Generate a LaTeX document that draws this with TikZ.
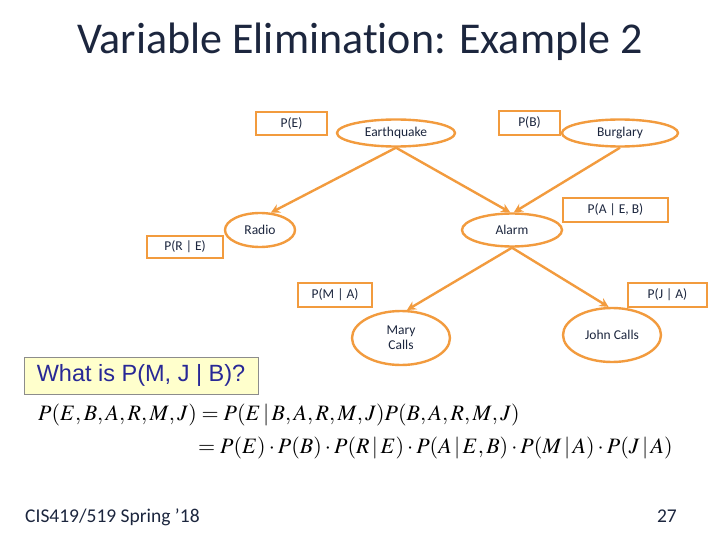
\documentclass[tikz,border=0pt]{standalone}
\usepackage{mathptmx}
\usepackage{fontspec}
\setmainfont[Ligatures=NoCommon]{Carlito}
\newfontfamily\arialf{Liberation Sans}
\usetikzlibrary{shapes.geometric,arrows.meta}
\definecolor{org}{RGB}{242,155,62}
\definecolor{navy}{RGB}{28,38,62}
\definecolor{qblue}{RGB}{40,40,150}
\definecolor{qfill}{RGB}{255,255,204}
\begin{document}
\begin{tikzpicture}[x=1pt,y=-1pt,
  var/.style={ellipse,draw=org,line width=2.4pt,fill=white,inner sep=0pt,text=navy,font=\fontsize{13.5}{14}\selectfont,align=center},
  cpt/.style={rectangle,draw=org,line width=2.4pt,fill=white,inner sep=0pt,text=navy,font=\fontsize{13.5}{14}\selectfont},
  edge/.style={draw=org,line width=2.4pt,-{Stealth[length=9pt,width=9pt]}}]
\useasboundingbox (0,0) rectangle (720,540);
\node[text=navy,font=\fontsize{44}{46}\selectfont] (title) at (360,42) {Variable Elimination: Example 2};

\node[var,minimum width=118pt,minimum height=27pt] (eq) at (396,133) {Earthquake};
\node[var,minimum width=116pt,minimum height=27pt] (bur) at (620,133) {Burglary};
\node[var,minimum width=70pt,minimum height=34pt] (rad) at (260,230) {Radio};
\node[var,minimum width=100pt,minimum height=33pt] (alm) at (512,230) {Alarm};
\node[var,minimum width=98pt,minimum height=54pt] (mary) at (401,338) {Mary\\[1pt]Calls};
\node[var,minimum width=98pt,minimum height=54pt] (john) at (612,335) {John Calls};

\node[cpt,minimum width=71pt,minimum height=23pt] (pe) at (291.5,123.5) {P(E)};
\node[cpt,minimum width=61pt,minimum height=24pt] (pb) at (529.5,123) {P(B)};
\node[cpt,minimum width=76pt,minimum height=22pt] (pre) at (185,247) {P(R | E)};
\node[cpt,minimum width=105pt,minimum height=24pt] (pa) at (615.5,210) {P(A | E, B)};
\node[cpt,minimum width=74pt,minimum height=24pt] (pm) at (335,295) {P(M | A)};
\node[cpt,minimum width=79pt,minimum height=24pt] (pj) at (667.5,295) {P(J | A)};

\draw[edge] (eq.south) -- (rad.58);
\draw[edge] (eq.south) -- (alm.96);
\draw[edge] (bur.south) -- (alm.84);
\draw[edge] (alm.south) -- (mary.78);
\draw[edge] (alm.south) -- (john.97);

\node[draw=black!45,fill=qfill,line width=0.8pt,minimum width=234pt,minimum height=37pt,inner sep=0pt,text=qblue,font=\arialf\fontsize{23.5}{24}\selectfont] (q) at (141,375.5) {What is P(M, J | B)?};

\node[anchor=base west,inner sep=0pt,font=\fontsize{22}{24}\selectfont] (l1) at (38,420) {$P(E,B,A,R,M,J) = P(E\,|\,B,A,R,M,J)P(B,A,R,M,J)$};
\node[anchor=base west,inner sep=0pt,font=\fontsize{22}{24}\selectfont] (l2) at (198,453) {$= P(E)\cdot P(B)\cdot P(R\,|\,E)\cdot P(A\,|\,E,B)\cdot P(M\,|\,A)\cdot P(J\,|\,A)$};

\node[anchor=base west,inner sep=0pt,text=navy,font=\fontsize{19.5}{20}\selectfont] (foot) at (25,522) {CIS419/519 Spring ’18};
\node[anchor=base east,inner sep=0pt,text=navy,font=\fontsize{19.5}{20}\selectfont] (pg) at (677,522) {27};
\end{tikzpicture}
\end{document}
